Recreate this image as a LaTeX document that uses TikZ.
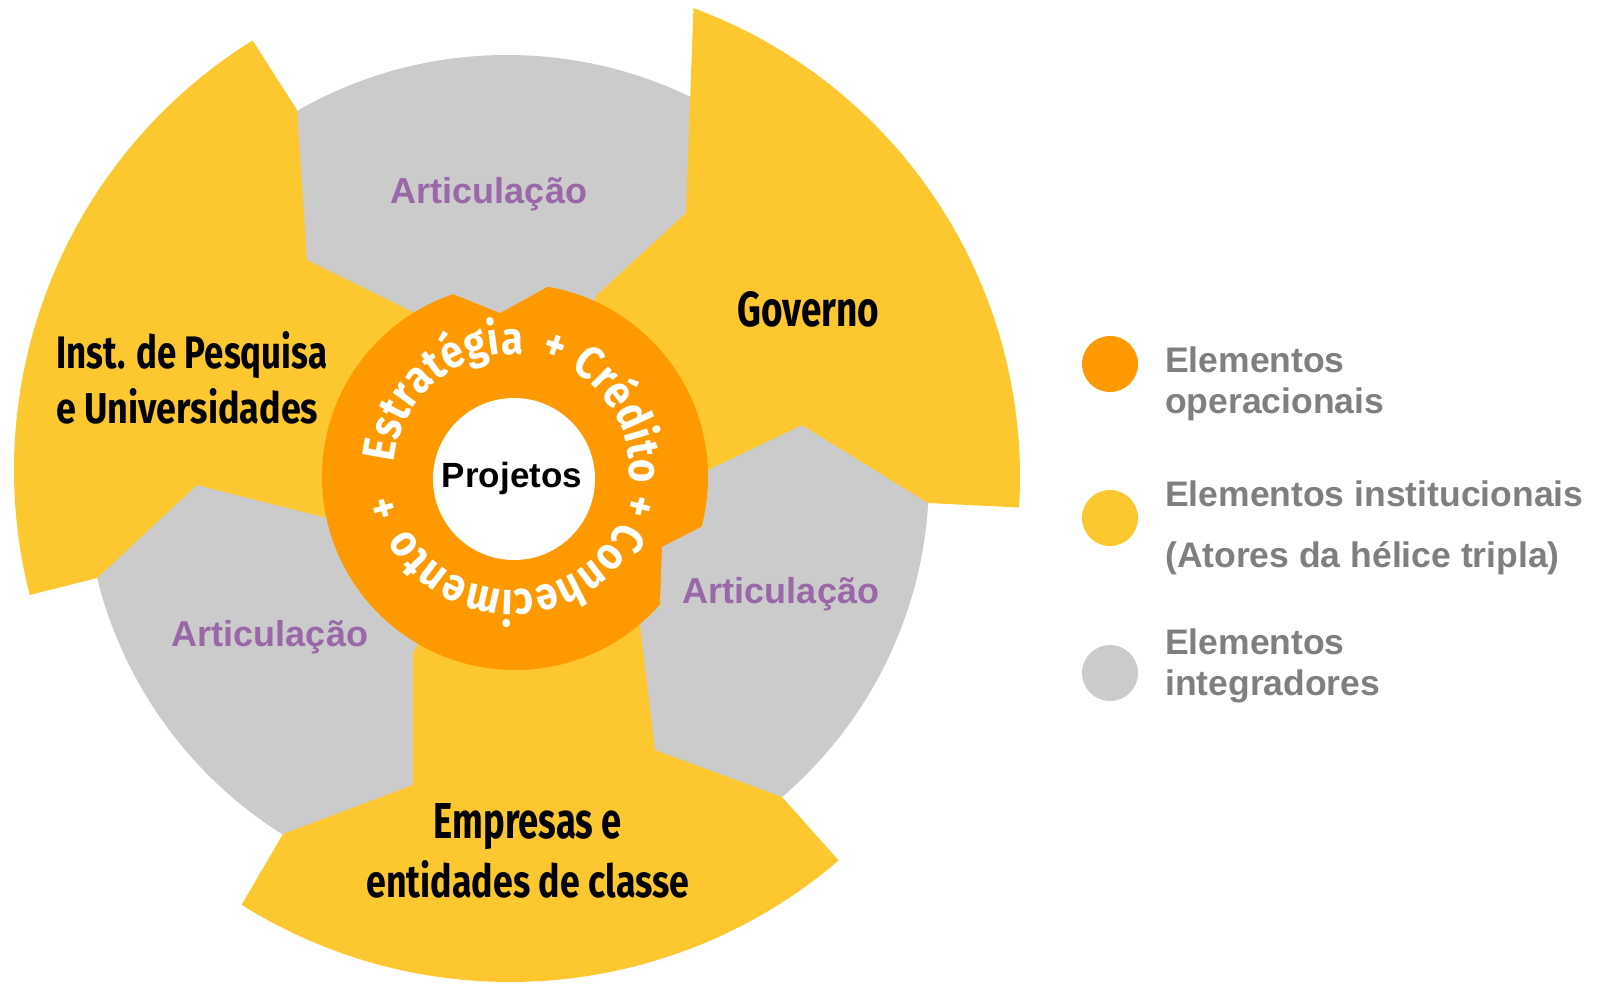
\documentclass[tikz,border=0pt]{standalone}
\usepackage{graphicx}
\usepackage{fontspec}
\setmainfont{Liberation Sans}
\newfontfamily\firafont{Fira Sans}
\newfontfamily\ringfam[FakeStretch=0.87]{Fira Sans}
\usetikzlibrary{calc,decorations.text}
\definecolor{yel}{HTML}{FDC82F}
\definecolor{orn}{HTML}{FF9900}
\definecolor{gry}{HTML}{CBCBCB}
\definecolor{purp}{HTML}{9A67A8}
\definecolor{legtxt}{HTML}{7F7F7F}
\newcommand{\ringtxt}{\ringfam\bfseries\fontsize{46}{46}\selectfont}
\newcommand{\bladefont}{\firafont\bfseries\fontsize{50}{55}\selectfont}
\begin{document}
\begin{tikzpicture}[x=1pt,y=1pt,
  blade/.style={fill=yel, draw=none},
  artic/.style={text=purp, font=\bfseries\fontsize{36}{40}\selectfont, inner sep=0},
  legdot/.style={circle, minimum size=56pt, inner sep=0, draw=none},
  legtext/.style={text=legtxt, font=\bfseries\fontsize{35.5}{41}\selectfont, align=left, anchor=north west, inner sep=0},
  ringword/.style={decorate, decoration={text along path, text={|\ringtxt|#1}, text align=center, text color=white}}
]
\fill[white] (0,0) rectangle (1599,-983);
\useasboundingbox (0,0) rectangle (1599,-983);

\coordinate (OC) at (510,-477);
\coordinate (OG) at (520,-477);
\coordinate (OI) at (520,-470);
\coordinate (GC) at (507,-477);
\coordinate (RC) at (515,-477);
\coordinate (TC) at (512,-472);

% gray disk (integrating elements)
\fill[gry] (GC) circle[radius=422];

% yellow blades
\fill[blade] (RC) -- (708,-470) -- (802,-425) -- (928,-503) -- ($(OG)+(-3.5:500)$)
  arc[start angle=-3.5, end angle=69.7, radius=500] -- (686,-213) -- (597,-295) -- cycle;
\fill[blade] (RC) -- (413,-312) -- (307,-260) -- (297,-110) -- ($(OI)+(121.9:506)$)
  arc[start angle=121.9, end angle=194.3, radius=506] -- (97,-578) -- (197,-485) -- (323,-517) -- cycle;
\fill[blade] (RC) -- (413,-653) -- (413,-785) -- (283,-834) -- ($(OC)+(237.9:505)$)
  arc[start angle=237.9, end angle=310.6, radius=505] -- (782,-797) -- (655,-750) -- (640,-625) -- cycle;

% orange ring
\fill[orn] (RC) circle[radius=193];
\fill[gry] (453,-294) -- (500,-313) -- (547,-287) -- (547,-250) -- (453,-250) -- cycle;
\fill[gry] (701,-527) -- (662,-547) -- (660,-603) -- (700,-650) -- (770,-560) -- (745,-500) -- cycle;

% white center
\fill[white] (514,-479) circle[radius=81];
\node[font=\bfseries\fontsize{35}{40}\selectfont, inner sep=0] (proj) at (512,-478) {Projetos};

% ring text
\path[ringword=Estratégia] ($(TC)+(180:118)$) arc[start angle=180, end angle=80, radius=118];
\path[ringword=+] ($(TC)+(81:118)$) arc[start angle=81, end angle=61, radius=118];
\path[ringword=Crédito] ($(TC)+(78:118)$) arc[start angle=78, end angle=-23, radius=118];
\path[ringword=+] ($(TC)+(-5:118)$) arc[start angle=-5, end angle=-25, radius=118];
\path[ringword=Conhecimento] ($(TC)+(-8:118)$) arc[start angle=-8, end angle=-168, radius=118];
\path[ringword=+] ($(TC)+(-154:118)$) arc[start angle=-154, end angle=-174, radius=118];

% Articulacao labels
\node[artic] (art1) at (489,-194) {Articulação};
\node[artic] (art2) at (781,-594) {Articulação};
\node[artic] (art3) at (270,-637) {Articulação};

% blade labels
\node[inner sep=0, anchor=base west] (gov) at (737,-326) {\resizebox{142pt}{35pt}{\bladefont Governo}};
\node[inner sep=0, anchor=north west, align=left, font=\fontsize{40}{55}\selectfont] (inst) at (56,-331)
  {\resizebox{271pt}{37pt}{\bladefont Inst. de Pesquisa}\\\resizebox{262pt}{35pt}{\bladefont e Universidades}};
\node[inner sep=0, anchor=north, align=center, font=\fontsize{40}{59}\selectfont] (emp) at (528,-803)
  {\resizebox{188pt}{35pt}{\bladefont Empresas e}\\\resizebox{323pt}{37pt}{\bladefont entidades de classe}};

% legend
\node[legdot, fill=orn] (d1) at (1110,-364) {};
\node[legdot, fill=yel] (d2) at (1110,-518) {};
\node[legdot, fill=gry] (d3) at (1110,-673) {};
\node[legtext] (l1) at (1165,-347) {Elementos\\operacionais};
\node[legtext] (l2) at (1165,-481) {Elementos institucionais\\[20pt](Atores da hélice tripla)};
\node[legtext] (l3) at (1165,-629) {Elementos\\integradores};
\end{tikzpicture}
\end{document}
